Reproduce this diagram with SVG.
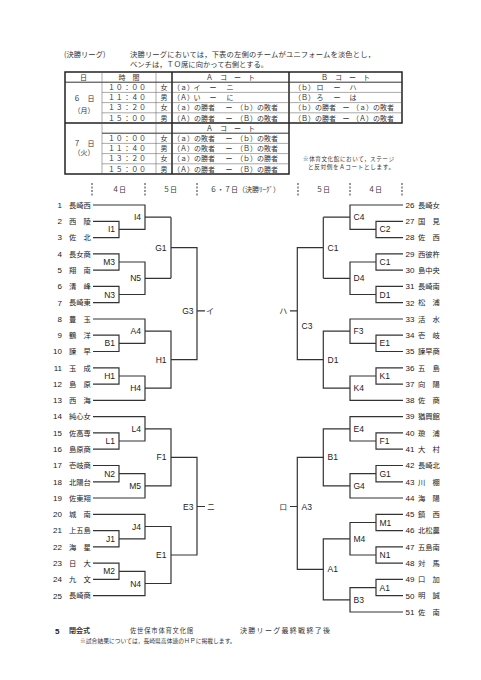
<svg xmlns="http://www.w3.org/2000/svg" width="481" height="680" viewBox="0 0 481 680">
<style>
.jp{font-family:"Noto Sans CJK JP","Noto Sans CJK SC",sans-serif;fill:#333}
.f76{font-size:7.3px}
.f7{font-size:7px}
.f6{font-size:5.6px}
.nm{font-family:"Noto Sans CJK JP","Noto Sans CJK SC",sans-serif;font-size:7.3px;fill:#222}
.num{font-family:"Liberation Sans",Arial,sans-serif;font-size:8px;fill:#222}
.lb{font-family:"Liberation Sans",Arial,sans-serif;font-size:8.5px;fill:#222}
.mid{text-anchor:middle}
.end{text-anchor:end}
.br{fill:none;stroke:#333;stroke-width:1.2}
.tk{fill:none;stroke:#222;stroke-width:1.5}
.tm{fill:none;stroke:#333;stroke-width:1}
.tn{fill:none;stroke:#555;stroke-width:0.5}
.ds{fill:none;stroke:#555;stroke-width:1.2;stroke-dasharray:2 1.5}
</style>
<rect width="481" height="680" fill="#fff"/>

<g id="intro">
<text class="jp f76" x="64" y="56.8">(決勝リーグ)</text>
<text class="jp f76" x="130" y="56.8" textLength="245" lengthAdjust="spacing">決勝リーグにおいては，下表の左側のチームがユニフォームを淡色とし，</text>
<text class="jp f76" x="130" y="67.4">ベンチは，ＴＯ席に向かって右側とする。</text>
</g>

<g id="schedule-table">
<path class="tk" d="M65,72H402V123H289V174H65Z M65,123H289 M172,72V174 M289,72V123"/>
<path class="tm" d="M65,82.2H402 M102,133.2H289"/>
<path class="tn" d="M102,92.4H402 M102,102.6H402 M102,112.8H402 M102,143.4H289 M102,153.6H289 M102,163.8H289 M102,72V174 M156,72V174"/>
<g class="jp f7">
<text class="mid" x="83.5" y="79.8">日</text>
<text class="mid" x="129" y="79.8">時　間</text>
<text class="mid" x="230.5" y="79.8">Ａ　コ　ー　ト</text>
<text class="mid" x="345.5" y="79.8">Ｂ　コ　ー　ト</text>
<text class="mid" x="84" y="100.5">６　日</text>
<text class="mid" x="84" y="112.5">（月）</text>
<text class="mid" x="84" y="145.5">７　日</text>
<text class="mid" x="84" y="154.5">（火）</text>
<text class="mid" x="230.5" y="130.8">Ａ　コ　ー　ト</text>
<g letter-spacing="0.8">
<text class="mid" x="127.4" y="90">１０：００</text>
<text class="mid" x="127.4" y="100.2">１１：４０</text>
<text class="mid" x="127.4" y="110.4">１３：２０</text>
<text class="mid" x="127.4" y="120.6">１５：００</text>
<text class="mid" x="127.4" y="141">１０：００</text>
<text class="mid" x="127.4" y="151.2">１１：４０</text>
<text class="mid" x="127.4" y="161.4">１３：２０</text>
<text class="mid" x="127.4" y="171.6">１５：００</text>
</g>
<text class="mid" x="164" y="90">女</text>
<text class="mid" x="164" y="100.2">男</text>
<text class="mid" x="164" y="110.4">女</text>
<text class="mid" x="164" y="120.6">男</text>
<text class="mid" x="164" y="141">女</text>
<text class="mid" x="164" y="151.2">男</text>
<text class="mid" x="164" y="161.4">女</text>
<text class="mid" x="164" y="171.6">男</text>
<text x="173" y="90">（ａ）</text><text class="mid" x="197" y="90">イ</text><text class="mid" x="213" y="90">ー</text><text class="mid" x="230" y="90">ニ</text>
<text x="173" y="100.2">（Ａ）</text><text class="mid" x="197" y="100.2">い</text><text class="mid" x="213" y="100.2">ー</text><text class="mid" x="230" y="100.2">に</text>
<text x="294" y="90">（ｂ）</text><text class="mid" x="320" y="90">ロ</text><text class="mid" x="337" y="90">ー</text><text class="mid" x="353" y="90">ハ</text>
<text x="294" y="100.2">（Ｂ）</text><text class="mid" x="320" y="100.2">ろ</text><text class="mid" x="337" y="100.2">ー</text><text class="mid" x="353" y="100.2">は</text>
<text x="173" y="110.4">（ａ）の勝者</text><text class="mid" x="229" y="110.4">ー</text><text x="236" y="110.4">（ｂ）の敗者</text>
<text x="173" y="120.6">（Ａ）の勝者</text><text class="mid" x="229" y="120.6">ー</text><text x="236" y="120.6">（Ｂ）の敗者</text>
<text x="294" y="110.4">（ｂ）の勝者</text><text class="mid" x="346" y="110.4">ー</text><text x="352" y="110.4">（ａ）の敗者</text>
<text x="294" y="120.6">（Ｂ）の勝者</text><text class="mid" x="346" y="120.6">ー</text><text x="352" y="120.6">（Ａ）の敗者</text>
<text x="173" y="141">（ａ）の敗者</text><text class="mid" x="229" y="141">ー</text><text x="236" y="141">（ｂ）の敗者</text>
<text x="173" y="151.2">（Ａ）の敗者</text><text class="mid" x="229" y="151.2">ー</text><text x="236" y="151.2">（Ｂ）の敗者</text>
<text x="173" y="161.4">（ａ）の勝者</text><text class="mid" x="229" y="161.4">ー</text><text x="236" y="161.4">（ｂ）の勝者</text>
<text x="173" y="171.6">（Ａ）の勝者</text><text class="mid" x="229" y="171.6">ー</text><text x="236" y="171.6">（Ｂ）の勝者</text>
</g>
<text class="jp f6" x="303" y="161.4" textLength="91" lengthAdjust="spacing">※体育文化館において，ステージ</text>
<text class="jp f6" x="308" y="169.2" textLength="86" lengthAdjust="spacing">と反対側をＡコートとします。</text>
</g>

<g id="day-header">
<path class="ds" d="M92,183V196 M145,183V196 M197,183V196 M298,183V196 M350,183V196 M402,183V196"/>
<g class="jp f7">
<text class="mid" x="119" y="191.7">４日</text>
<text class="mid" x="170" y="191.7">５日</text>
<text class="mid" x="245" y="191.7">６・７日（決勝ﾘｰｸﾞ）</text>
<text class="mid" x="323" y="191.7">５日</text>
<text class="mid" x="375" y="191.7">４日</text>
</g>
</g>

<g id="connectors" class="br">
<path d="M93,205H145V229.4H119 M93,221.3H119V237.6H93 M145,217.2H171"/>
<path d="M93,253.8H119V270.1H93 M119,262H145V294.5H119 M93,286.4H119V302.7H93 M145,278.3H171"/>
<path d="M171,217.2V278.3 M171,247.7H197V359.7H171 M197,310.8H205"/>
<path d="M93,319H145V343.4H119 M93,335.2H119V351.5H93 M145,331.2H171V388.2H145"/>
<path d="M93,367.8H119V384.1H93 M119,376H145V400.4H93"/>
<path d="M93,416.6H145V441H119 M93,432.9H119V449.2H93 M145,428.8H171V485.8H145"/>
<path d="M93,465.5H119V481.8H93 M119,473.6H145V498H93"/>
<path d="M171,457.3H197V555H171 M197,506.5H205"/>
<path d="M93,514.3H145V538.8H119 M93,530.6H119V546.9H93 M145,526.5H171V583.5H145"/>
<path d="M93,563.2H119V579.4H93 M119,571.3H145V595.7H93"/>

<path d="M403,205H350V229.4H376 M403,221.3H376V237.6H403 M350,217.2H323.3"/>
<path d="M403,253.8H376V270.1H403 M376,262H350V294.5H376 M403,286.4H376V302.7H403 M350,278.3H323.3"/>
<path d="M323.3,217.2V278.3 M323.3,247.7H297.3V359.7H323.3 M297.3,310.8H290"/>
<path d="M403,319H350V343.4H376 M403,335.2H376V351.5H403 M350,331.2H323.3V388.2H350"/>
<path d="M403,367.8H376V384.1H403 M376,376H350V400.4H403"/>
<path d="M403,416.6H350V441H376 M403,432.9H376V449.2H403 M350,428.8H323.3V485.8H350"/>
<path d="M403,465.5H376V481.8H403 M376,473.6H350V498H403"/>
<path d="M323.3,457.3H297.3V569.3H323.3 M297.3,506.5H290"/>
<path d="M403,514.3H376V530.6H403 M376,522.5H350V555H376 M403,546.9H376V563.2H403 M350,538.8H323.3V599.8H350"/>
<path d="M403,579.4H376V595.7H403 M376,587.6H350V612H403"/>
</g>

<g id="match-labels" class="lb">
<g class="end">
<text x="115" y="232.4">I1</text>
<text x="141" y="220.2">I4</text>
<text x="115" y="265">M3</text>
<text x="115" y="297.5">N3</text>
<text x="141" y="281.3">N5</text>
<text x="166.5" y="250.7">G1</text>
<text x="115" y="346.4">B1</text>
<text x="141" y="334.2">A4</text>
<text x="115" y="379">H1</text>
<text x="141" y="391.2">H4</text>
<text x="166.5" y="362.7">H1</text>
<text x="193.5" y="313.8">G3</text>
<text x="115" y="444">L1</text>
<text x="141" y="431.8">L4</text>
<text x="115" y="476.6">N2</text>
<text x="141" y="488.8">M5</text>
<text x="166.5" y="460.3">F1</text>
<text x="115" y="541.8">J1</text>
<text x="141" y="529.5">J4</text>
<text x="115" y="574.3">M2</text>
<text x="141" y="586.5">N4</text>
<text x="166.5" y="558">E1</text>
<text x="193.5" y="509.5">E3</text>
</g>
<text x="379.5" y="232.4">C2</text>
<text x="353.5" y="220.2">C4</text>
<text x="379.5" y="265">C1</text>
<text x="379.5" y="297.5">D1</text>
<text x="353.5" y="281.3">D4</text>
<text x="327.5" y="250.7">C1</text>
<text x="379.5" y="346.4">E1</text>
<text x="353.5" y="334.2">F3</text>
<text x="379.5" y="379">K1</text>
<text x="353.5" y="391.2">K4</text>
<text x="327.5" y="362.7">D1</text>
<text x="301.5" y="328.8">C3</text>
<text x="379.5" y="444">F1</text>
<text x="353.5" y="431.8">E4</text>
<text x="379.5" y="476.6">G1</text>
<text x="353.5" y="488.8">G4</text>
<text x="327.5" y="460.3">B1</text>
<text x="379.5" y="525.5">M1</text>
<text x="379.5" y="558">N1</text>
<text x="353.5" y="541.8">M4</text>
<text x="379.5" y="590.6">A1</text>
<text x="353.5" y="602.8">B3</text>
<text x="327.5" y="572.3">A1</text>
<text x="301.5" y="509.5">A3</text>
</g>

<g id="final-slots" class="jp" font-size="8">
<text class="mid" x="210" y="313.8">イ</text>
<text class="mid" x="211" y="509.5">ニ</text>
<text class="mid" x="283.3" y="313.8">ハ</text>
<text class="mid" x="283.3" y="509.5">ロ</text>
</g>

<g id="teams-left">
<g id="t1" transform="translate(0,205)"><text class="num end" x="62" y="2.8">1</text><text class="nm" x="69" y="2.7">長崎西</text></g>
<g id="t2" transform="translate(0,221.3)"><text class="num end" x="62" y="2.8">2</text><text class="nm" x="69" y="2.7">西　陵</text></g>
<g id="t3" transform="translate(0,237.6)"><text class="num end" x="62" y="2.8">3</text><text class="nm" x="69" y="2.7">佐　北</text></g>
<g id="t4" transform="translate(0,253.8)"><text class="num end" x="62" y="2.8">4</text><text class="nm" x="69" y="2.7">長女商</text></g>
<g id="t5" transform="translate(0,270.1)"><text class="num end" x="62" y="2.8">5</text><text class="nm" x="69" y="2.7">翔　南</text></g>
<g id="t6" transform="translate(0,286.4)"><text class="num end" x="62" y="2.8">6</text><text class="nm" x="69" y="2.7">清　峰</text></g>
<g id="t7" transform="translate(0,302.7)"><text class="num end" x="62" y="2.8">7</text><text class="nm" x="69" y="2.7">長崎東</text></g>
<g id="t8" transform="translate(0,319)"><text class="num end" x="62" y="2.8">8</text><text class="nm" x="69" y="2.7">豊　玉</text></g>
<g id="t9" transform="translate(0,335.2)"><text class="num end" x="62" y="2.8">9</text><text class="nm" x="69" y="2.7">鶴　洋</text></g>
<g id="t10" transform="translate(0,351.5)"><text class="num end" x="62" y="2.8">10</text><text class="nm" x="69" y="2.7">諫　早</text></g>
<g id="t11" transform="translate(0,367.8)"><text class="num end" x="62" y="2.8">11</text><text class="nm" x="69" y="2.7">玉　成</text></g>
<g id="t12" transform="translate(0,384.1)"><text class="num end" x="62" y="2.8">12</text><text class="nm" x="69" y="2.7">島　原</text></g>
<g id="t13" transform="translate(0,400.4)"><text class="num end" x="62" y="2.8">13</text><text class="nm" x="69" y="2.7">西　海</text></g>
<g id="t14" transform="translate(0,416.6)"><text class="num end" x="62" y="2.8">14</text><text class="nm" x="69" y="2.7">純心女</text></g>
<g id="t15" transform="translate(0,432.9)"><text class="num end" x="62" y="2.8">15</text><text class="nm" x="69" y="2.7">佐高専</text></g>
<g id="t16" transform="translate(0,449.2)"><text class="num end" x="62" y="2.8">16</text><text class="nm" x="69" y="2.7">島原商</text></g>
<g id="t17" transform="translate(0,465.5)"><text class="num end" x="62" y="2.8">17</text><text class="nm" x="69" y="2.7">壱岐商</text></g>
<g id="t18" transform="translate(0,481.8)"><text class="num end" x="62" y="2.8">18</text><text class="nm" x="69" y="2.7">北陽台</text></g>
<g id="t19" transform="translate(0,498)"><text class="num end" x="62" y="2.8">19</text><text class="nm" x="69" y="2.7">佐東翔</text></g>
<g id="t20" transform="translate(0,514.3)"><text class="num end" x="62" y="2.8">20</text><text class="nm" x="69" y="2.7">城　南</text></g>
<g id="t21" transform="translate(0,530.6)"><text class="num end" x="62" y="2.8">21</text><text class="nm" x="69" y="2.7">上五島</text></g>
<g id="t22" transform="translate(0,546.9)"><text class="num end" x="62" y="2.8">22</text><text class="nm" x="69" y="2.7">海　星</text></g>
<g id="t23" transform="translate(0,563.2)"><text class="num end" x="62" y="2.8">23</text><text class="nm" x="69" y="2.7">日　大</text></g>
<g id="t24" transform="translate(0,579.4)"><text class="num end" x="62" y="2.8">24</text><text class="nm" x="69" y="2.7">九　文</text></g>
<g id="t25" transform="translate(0,595.7)"><text class="num end" x="62" y="2.8">25</text><text class="nm" x="69" y="2.7">長崎商</text></g>
</g>

<g id="teams-right">
<g id="t26" transform="translate(0,205)"><text class="num" x="405.5" y="2.8">26</text><text class="nm" x="418" y="2.7">長崎女</text></g>
<g id="t27" transform="translate(0,221.3)"><text class="num" x="405.5" y="2.8">27</text><text class="nm" x="418" y="2.7">国　見</text></g>
<g id="t28" transform="translate(0,237.6)"><text class="num" x="405.5" y="2.8">28</text><text class="nm" x="418" y="2.7">佐　西</text></g>
<g id="t29" transform="translate(0,253.8)"><text class="num" x="405.5" y="2.8">29</text><text class="nm" x="418" y="2.7">西彼杵</text></g>
<g id="t30" transform="translate(0,270.1)"><text class="num" x="405.5" y="2.8">30</text><text class="nm" x="418" y="2.7">島中央</text></g>
<g id="t31" transform="translate(0,286.4)"><text class="num" x="405.5" y="2.8">31</text><text class="nm" x="418" y="2.7">長崎南</text></g>
<g id="t32" transform="translate(0,302.7)"><text class="num" x="405.5" y="2.8">32</text><text class="nm" x="418" y="2.7">松　浦</text></g>
<g id="t33" transform="translate(0,319)"><text class="num" x="405.5" y="2.8">33</text><text class="nm" x="418" y="2.7">活　水</text></g>
<g id="t34" transform="translate(0,335.2)"><text class="num" x="405.5" y="2.8">34</text><text class="nm" x="418" y="2.7">壱　岐</text></g>
<g id="t35" transform="translate(0,351.5)"><text class="num" x="405.5" y="2.8">35</text><text class="nm" x="418" y="2.7">諫早商</text></g>
<g id="t36" transform="translate(0,367.8)"><text class="num" x="405.5" y="2.8">36</text><text class="nm" x="418" y="2.7">五　島</text></g>
<g id="t37" transform="translate(0,384.1)"><text class="num" x="405.5" y="2.8">37</text><text class="nm" x="418" y="2.7">向　陽</text></g>
<g id="t38" transform="translate(0,400.4)"><text class="num" x="405.5" y="2.8">38</text><text class="nm" x="418" y="2.7">佐　商</text></g>
<g id="t39" transform="translate(0,416.6)"><text class="num" x="405.5" y="2.8">39</text><text class="nm" x="418" y="2.7">猶興館</text></g>
<g id="t40" transform="translate(0,432.9)"><text class="num" x="405.5" y="2.8">40</text><text class="nm" x="418" y="2.7">瓊　浦</text></g>
<g id="t41" transform="translate(0,449.2)"><text class="num" x="405.5" y="2.8">41</text><text class="nm" x="418" y="2.7">大　村</text></g>
<g id="t42" transform="translate(0,465.5)"><text class="num" x="405.5" y="2.8">42</text><text class="nm" x="418" y="2.7">長崎北</text></g>
<g id="t43" transform="translate(0,481.8)"><text class="num" x="405.5" y="2.8">43</text><text class="nm" x="418" y="2.7">川　棚</text></g>
<g id="t44" transform="translate(0,498)"><text class="num" x="405.5" y="2.8">44</text><text class="nm" x="418" y="2.7">海　陽</text></g>
<g id="t45" transform="translate(0,514.3)"><text class="num" x="405.5" y="2.8">45</text><text class="nm" x="418" y="2.7">鎮　西</text></g>
<g id="t46" transform="translate(0,530.6)"><text class="num" x="405.5" y="2.8">46</text><text class="nm" x="418" y="2.7">北松農</text></g>
<g id="t47" transform="translate(0,546.9)"><text class="num" x="405.5" y="2.8">47</text><text class="nm" x="418" y="2.7">五島南</text></g>
<g id="t48" transform="translate(0,563.2)"><text class="num" x="405.5" y="2.8">48</text><text class="nm" x="418" y="2.7">対　馬</text></g>
<g id="t49" transform="translate(0,579.4)"><text class="num" x="405.5" y="2.8">49</text><text class="nm" x="418" y="2.7">口　加</text></g>
<g id="t50" transform="translate(0,595.7)"><text class="num" x="405.5" y="2.8">50</text><text class="nm" x="418" y="2.7">明　誠</text></g>
<g id="t51" transform="translate(0,612)"><text class="num" x="405.5" y="2.8">51</text><text class="nm" x="418" y="2.7">佐　南</text></g>
</g>

<g id="closing">
<text x="55" y="633.5" font-family="Liberation Sans, Arial, sans-serif" font-size="8" font-weight="bold" fill="#222">5</text>
<text x="69" y="633.4" class="jp" font-size="7" font-weight="bold" fill="#222">閉会式</text>
<text x="130" y="633.4" class="jp" font-size="6.3" letter-spacing="0.8">佐世保市体育文化館</text>
<text x="240" y="633.4" class="jp" font-size="7" letter-spacing="1.3">決勝リーグ最終戦終了後</text>
<text x="80" y="643" class="jp" font-size="5.8">※試合結果については，長崎県高体連のＨＰに掲載します。</text>
</g>
</svg>
